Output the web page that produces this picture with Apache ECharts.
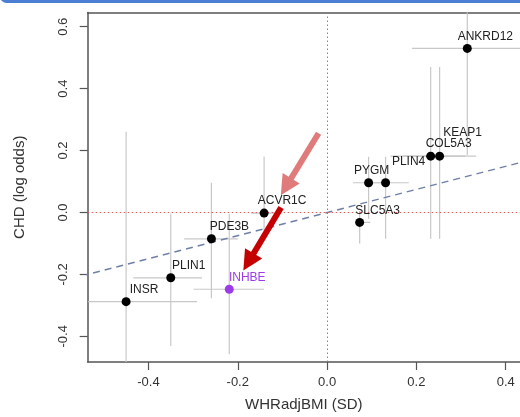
<!DOCTYPE html>
<html>
<head>
<meta charset="utf-8">
<script src="https://cdn.jsdelivr.net/npm/echarts@6/dist/echarts.min.js"></script>
<style>html,body{margin:0;padding:0;background:#fff}#c{width:520px;height:417px}</style>
</head>
<body>
<div id="c"></div>
<script>
// ---- data ----
const genes = ['ANKRD12','KEAP1','COL5A3','PLIN4','PYGM','SLC5A3','ACVR1C','PDE3B','PLIN1','INSR','INHBE'];
const whr   = [0.314, 0.252, 0.232, 0.131, 0.093, 0.073, -0.141, -0.259, -0.350, -0.450, -0.219];
const chd   = [0.530, 0.182, 0.182, 0.096, 0.096, -0.032, -0.002, -0.085, -0.211, -0.288, -0.248];
const whrLo = [0.190, 0.170, 0.142, 0.090, 0.058, 0.063, -0.170, -0.320, -0.434, -0.535, -0.299];
const whrHi = [0.460, 0.334, 0.310, 0.183, 0.130, 0.097, -0.110, -0.200, -0.280, -0.291, -0.141];
const chdLo = [0.186, -0.085, -0.085, -0.085, -0.020, -0.100, -0.060, -0.277, -0.431, -0.600, -0.458];
const chdHi = [0.750, 0.470, 0.470, 0.180, 0.180, 0.005, 0.181, 0.096, -0.003, 0.261, -0.005];
const xTicks = [-0.4, -0.2, 0.0, 0.2, 0.4];
const yTicks = [-0.4, -0.2, 0.0, 0.2, 0.4, 0.6];
const fitX = [-0.55, 0.55];
const fitY = [-0.205, 0.205];
const arrowLight = [[-0.019, 0.256], [-0.092, 0.083]];
const arrowDark  = [[-0.103, 0.016], [-0.176, -0.160]];
const highlight = 'INHBE';

// ---- styling ----
const PURPLE = '#9c3ce8';
const FONT = 'Liberation Sans, Arial, sans-serif';
const AX = '#555';
const labelOffsets = { KEAP1: [23, -23], PLIN4: [23, -21], PYGM: [3, -12] };
const defaultOffset = [18, -12];

const chart = echarts.init(document.getElementById('c'), null, { renderer: 'canvas' });

const pts = genes.map((g, i) => ({
  name: g,
  value: [whr[i], chd[i]],
  itemStyle: { color: g === highlight ? PURPLE : '#000', opacity: 1 },
  label: {
    offset: labelOffsets[g] || defaultOffset,
    color: g === highlight ? PURPLE : '#222'
  }
}));

const errData = genes.map((g, i) => [whr[i], chd[i], whrLo[i], whrHi[i], chdLo[i], chdHi[i]]);

const fmt = v => (Math.abs(v) < 1e-9 ? '0.0' : v.toFixed(1));
const XMIN = -0.536, XMAX = 0.432, YMIN = -0.483, YMAX = 0.646;

const option = {
  animation: false,
  textStyle: { fontFamily: FONT },
  graphic: [{
    type: 'rect', z: 100,
    shape: { x: 0, y: -10, width: 540, height: 13, r: 10 },
    style: { fill: '#4a7fd4' }
  }],
  grid: { left: 87.7, top: 12.5, bottom: 51, right: 0 },
  xAxis: [{
    type: 'value', min: XMIN, max: XMAX,
    name: 'WHRadjBMI (SD)', nameLocation: 'middle', nameGap: 35,
    nameTextStyle: { fontSize: 15, color: '#333', fontFamily: FONT },
    axisLine: { show: true, onZero: false, lineStyle: { color: AX, width: 1.5 } },
    splitLine: { show: false },
    axisTick: { show: true, length: 8, lineStyle: { color: AX, width: 1.2 }, customValues: xTicks },
    axisLabel: { show: true, fontSize: 13, color: '#333', margin: 14, customValues: xTicks, formatter: fmt, fontFamily: FONT }
  }, {
    type: 'value', min: XMIN, max: XMAX, position: 'top',
    axisLine: { show: true, onZero: false, lineStyle: { color: AX, width: 1.5 } },
    splitLine: { show: false }, axisTick: { show: false }, axisLabel: { show: false }
  }],
  yAxis: {
    type: 'value', min: YMIN, max: YMAX,
    name: 'CHD (log odds)', nameLocation: 'middle', nameGap: 60,
    nameTextStyle: { fontSize: 15, color: '#333', fontFamily: FONT },
    axisLine: { show: true, onZero: false, lineStyle: { color: AX, width: 1.5 } },
    splitLine: { show: false },
    axisTick: { show: true, length: 8, lineStyle: { color: AX, width: 1.2 }, customValues: yTicks },
    axisLabel: { show: true, fontSize: 13, color: '#333', margin: 18, rotate: 90, customValues: yTicks, formatter: fmt, fontFamily: FONT }
  },
  series: [
    {
      type: 'custom', z: 1, clip: true, silent: true,
      data: errData,
      renderItem: function (params, api) {
        const c1 = api.coord([api.value(2), api.value(1)]);
        const c2 = api.coord([api.value(3), api.value(1)]);
        const c3 = api.coord([api.value(0), api.value(4)]);
        const c4 = api.coord([api.value(0), api.value(5)]);
        const st = { stroke: '#c8c8c8', lineWidth: 1.2 };
        return {
          type: 'group',
          children: [
            { type: 'line', shape: { x1: c1[0], y1: c1[1], x2: c2[0], y2: c2[1] }, style: st },
            { type: 'line', shape: { x1: c3[0], y1: c3[1], x2: c4[0], y2: c4[1] }, style: st }
          ]
        };
      }
    },
    {
      type: 'line', z: 3, silent: true,
      data: fitX.map((v, i) => [v, fitY[i]]),
      symbol: 'none',
      lineStyle: { color: '#6f7fa6', width: 1.5, type: [7, 5] },
      markLine: {
        silent: true, symbol: 'none', label: { show: false },
        lineStyle: { color: '#e05a5a', type: [1.5, 2.5], width: 1 },
        data: [{ xAxis: 0 }, { yAxis: 0 }]
      }
    },
    {
      type: 'scatter', z: 5,
      data: pts,
      symbolSize: 9,
      label: {
        show: true, position: 'inside', formatter: '{b}',
        fontSize: 12, fontFamily: FONT
      }
    },
    {
      type: 'lines', coordinateSystem: 'cartesian2d', z: 10, silent: true,
      symbol: ['none', 'triangle'], symbolSize: 20,
      data: [
        { coords: arrowLight, lineStyle: { color: '#e07b7b', width: 6, opacity: 1 } },
        { coords: arrowDark, lineStyle: { color: '#c40000', width: 6, opacity: 1 } }
      ]
    }
  ]
};
chart.setOption(option);
</script>
</body>
</html>
